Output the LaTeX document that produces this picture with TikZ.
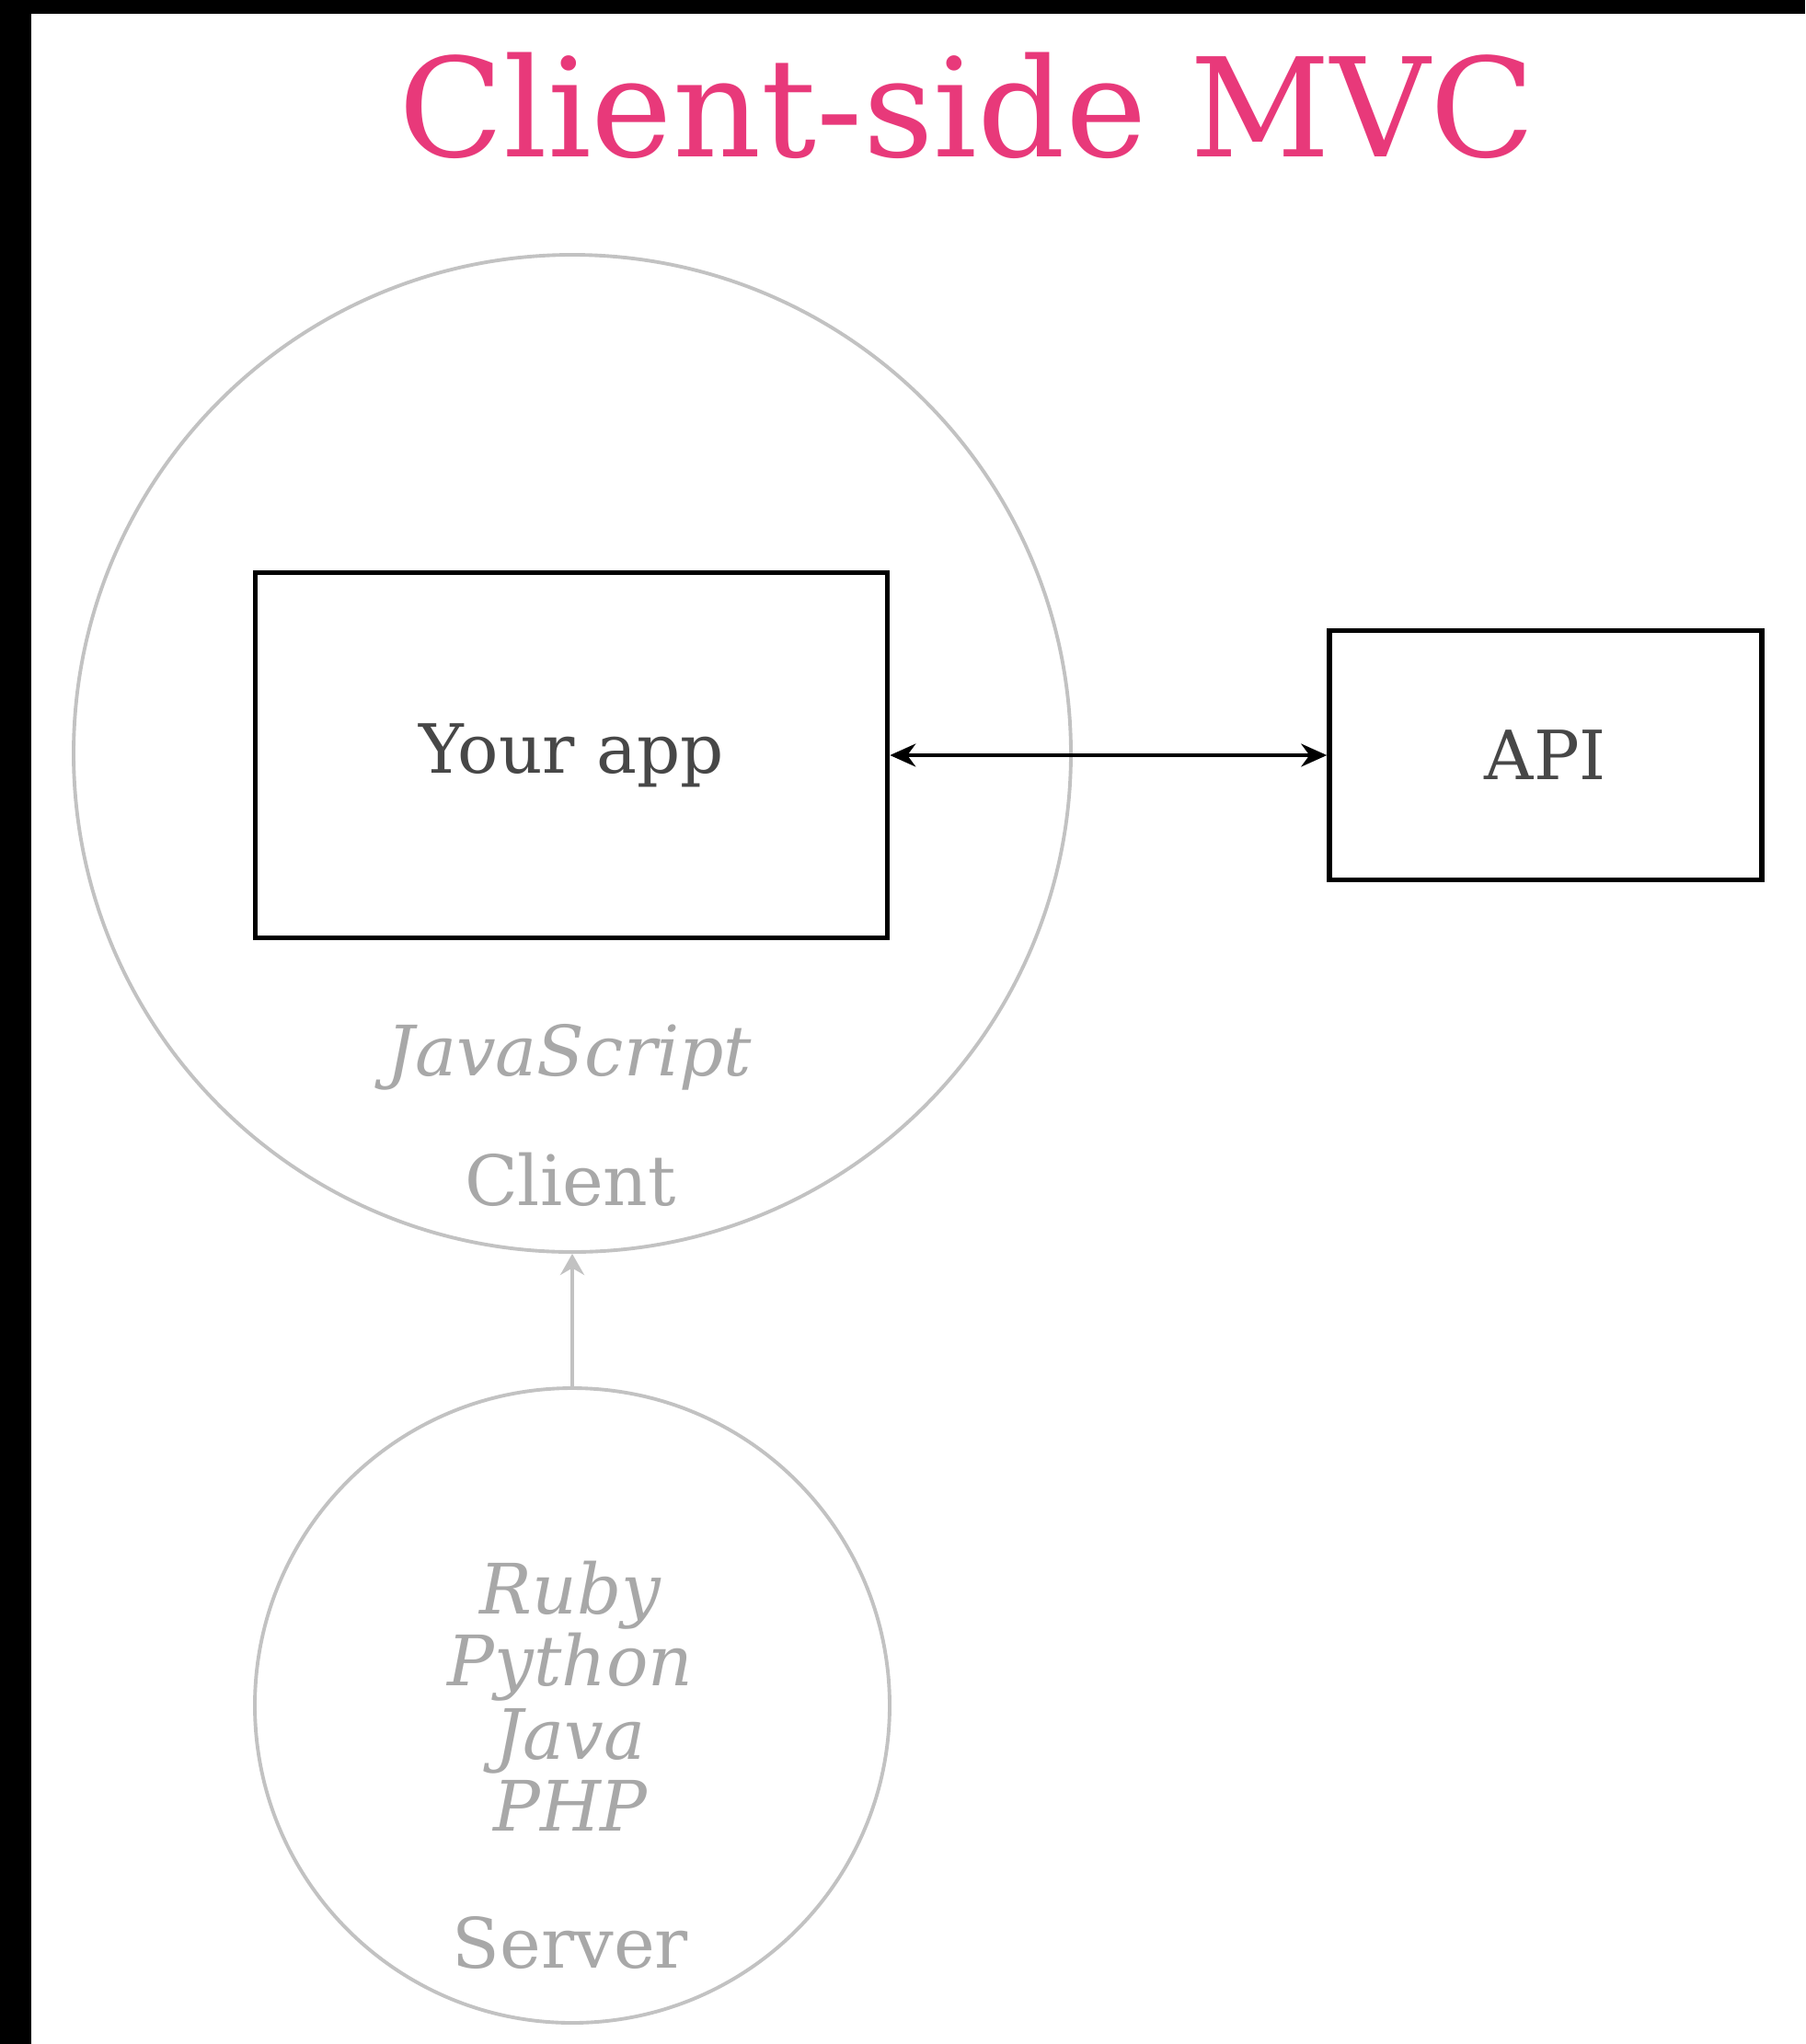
\documentclass[tikz,border=0pt]{standalone}
\usepackage{fontspec}
\setmainfont{DejaVu Serif}
\usetikzlibrary{arrows.meta}

\definecolor{titlepink}{HTML}{E8397A}
\definecolor{ringgrey}{HTML}{C2C2C2}
\definecolor{labelgrey}{HTML}{A8A8A8}
\definecolor{boxtext}{HTML}{474747}

\tikzset{
  ring/.style={circle, draw=ringgrey, line width=1.1pt},
  appbox/.style={rectangle, draw=black, line width=1.6pt, text=boxtext, font=\fontsize{21}{25}\selectfont},
  greylabel/.style={text=labelgrey, anchor=base, inner sep=0pt, font=\fontsize{21.5}{26}\selectfont},
  langlabel/.style={greylabel, font=\fontsize{21.5}{26}\selectfont\itshape}
}

\begin{document}
\begin{tikzpicture}
        % Frame with the dark strips on the left and top
        \useasboundingbox (0,0) rectangle (19.62,-22.22);
        \fill[white] (0,0) rectangle (19.62,-22.22);
        \fill[black] (0,0) rectangle (0.34,-22.22);
        \fill[black] (0,0) rectangle (19.62,-0.15);

        % Title
        \node[anchor=base, inner sep=0pt, text=titlepink, font=\fontsize{42.5}{50}\selectfont] (title) at (10.51,-1.70) {Client-side MVC};

        % Client side
        \node[ring, minimum size=10.84cm] (client) at (6.22,-8.19) {};
        \node[appbox, minimum width=6.87cm, minimum height=3.97cm] (app) at (6.21,-8.21) {Your app};
        \node[langlabel] (js) at (6.19,-11.69) {JavaScript};
        \node[greylabel] (clientlbl) at (6.20,-13.10) {Client};

        % API
        \node[appbox, minimum width=4.70cm, minimum height=2.71cm] (api) at (16.80,-8.21) {API};

        % Server side
        \node[ring, minimum size=6.90cm] (server) at (6.22,-18.54) {};
        \node[langlabel] (ruby) at (6.20,-17.54) {Ruby};
        \node[langlabel] (python) at (6.20,-18.32) {Python};
        \node[langlabel] (java) at (6.20,-19.12) {Java};
        \node[langlabel] (php) at (6.20,-19.90) {PHP};
        \node[greylabel] (serverlbl) at (6.20,-21.39) {Server};

        % Connections
        \draw[{Stealth[length=2.8mm, width=2.5mm]}-{Stealth[length=2.8mm, width=2.5mm]}, line width=1pt] (app.east) -- (api.west);
        \draw[-{Stealth[length=2.3mm, width=2.6mm]}, draw=ringgrey, fill=ringgrey, line width=1.1pt] (server.north) -- (client.south);
    \end{tikzpicture}
\end{document}
